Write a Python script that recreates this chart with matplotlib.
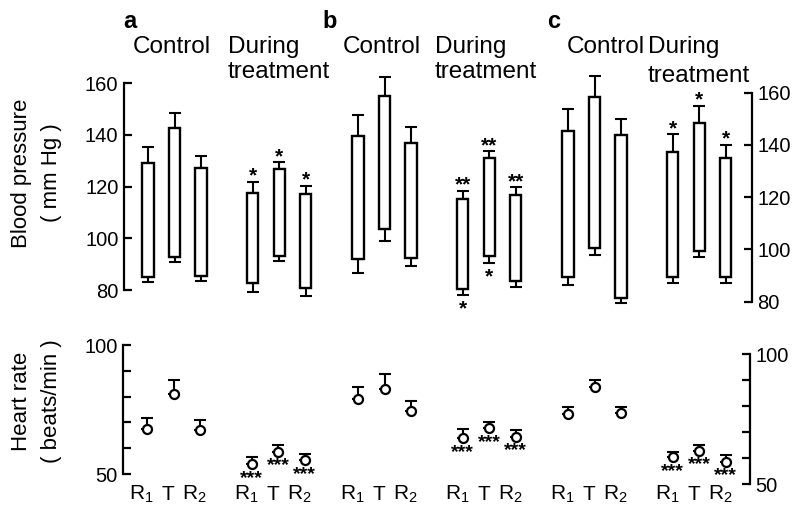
import numpy as np
import matplotlib
matplotlib.use("Agg")
import matplotlib.pyplot as plt
import matplotlib.transforms as mtransforms

plt.rcParams['font.family'] = ['Liberation Sans', 'DejaVu Sans']
plt.rcParams['mathtext.fontset'] = 'custom'
plt.rcParams['mathtext.rm'] = 'Liberation Sans'
plt.rcParams['mathtext.it'] = 'Liberation Sans:italic'
plt.rcParams['mathtext.bf'] = 'Liberation Sans:bold'

panels = ['a', 'b', 'c']
conditions = ['R$_1$', 'T', 'R$_2$', 'R$_1$', 'T', 'R$_2$']

# blood pressure, mm Hg: systolic (top of bar) and diastolic (bottom), with SE
sys_a = [129.3, 142.6, 127.1, 117.7, 126.7, 117.0]
sys_se_a = [5.9, 5.8, 4.9, 4.2, 2.7, 3.3]
dia_a = [84.9, 92.9, 85.4, 82.6, 93.2, 80.7]
dia_se_a = [1.7, 1.9, 1.8, 3.2, 2.0, 2.9]

sys_b = [139.5, 155.1, 136.9, 115.2, 130.9, 116.7]
sys_se_b = [8.1, 7.3, 6.0, 3.2, 2.9, 3.0]
dia_b = [91.9, 103.7, 92.5, 80.3, 93.1, 83.6]
dia_se_b = [5.2, 4.8, 3.1, 2.2, 2.8, 2.6]

sys_c = [145.5, 158.5, 143.8, 137.4, 148.3, 135.1]
sys_se_c = [8.3, 7.9, 6.0, 6.7, 6.7, 5.0]
dia_c = [89.3, 100.4, 81.4, 89.3, 99.4, 89.6]
dia_se_c = [2.9, 2.5, 1.9, 2.3, 2.2, 2.4]

# heart rate, beats/min, with SE
hr_a = [67.3, 80.9, 67.1, 53.9, 58.6, 55.4]
hr_se_a = [4.3, 5.5, 3.8, 2.6, 2.6, 2.4]
hr_b = [79.2, 82.8, 74.5, 63.8, 67.7, 64.5]
hr_se_b = [4.4, 6.0, 3.9, 3.5, 2.6, 2.6]
hr_c = [76.8, 87.2, 77.2, 60.3, 62.8, 58.6]
hr_se_c = [2.7, 2.8, 2.5, 2.2, 2.2, 2.6]

# significance marks
sys_star_a = ['', '', '', '*', '*', '*']
dia_star_a = ['', '', '', '', '', '']
sys_star_b = ['', '', '', '**', '**', '**']
dia_star_b = ['', '', '', '*', '*', '']
sys_star_c = ['', '', '', '*', '*', '*']
dia_star_c = ['', '', '', '', '', '']
hr_star = ['', '', '', '***', '***', '***']

W, H = 793, 508
UNIT = 26.5  # px per x unit
xpos = np.array([0, 1, 2, 3.95, 4.95, 5.95])
XL = -24 / UNIT

fig = plt.figure(figsize=(W / 100, H / 100), dpi=100)


def fx(px):
    return px / W


def fy(py):
    return 1 - py / H


def axes_at(x0, x1, ytop, ybot, vtop, vbot, lo, hi):
    s = (ybot - ytop) / (vtop - vbot)
    top = ytop - (hi - vtop) * s
    bot = ybot + (vbot - lo) * s
    ax = fig.add_axes([fx(x0), fy(bot), (x1 - x0) / W, (bot - top) / H])
    ax.set_ylim(lo, hi)
    ax.set_xlim(XL, XL + (x1 - x0) / UNIT)
    ax.patch.set_alpha(0)
    for sp in ax.spines.values():
        sp.set_visible(False)
    ax.set_xticks([])
    ax.set_yticks([])
    return ax


def style_axis(ax, side, ticks, labels, lo, hi):
    sp = ax.spines[side]
    sp.set_visible(True)
    sp.set_bounds(lo, hi)
    sp.set_linewidth(1.6)
    ax.set_yticks(ticks)
    ax.set_yticklabels(labels)
    if side == 'right':
        ax.yaxis.tick_right()
    ax.tick_params(axis='y', direction='in', length=5.5, width=1.6,
                   labelsize=14.5, pad=4)


bp_data = [(sys_a, sys_se_a, dia_a, dia_se_a, sys_star_a, dia_star_a),
           (sys_b, sys_se_b, dia_b, dia_se_b, sys_star_b, dia_star_b),
           (sys_c, sys_se_c, dia_c, dia_se_c, sys_star_c, dia_star_c)]
hr_data = [(hr_a, hr_se_a), (hr_b, hr_se_b), (hr_c, hr_se_c)]

# panel geometry in pixels
bp_geo = [(124, 334, 83.3, 290), (334, 544, 83.3, 290), (544, 752, 92.7, 301.7)]
hr_geo = [(123, 334, 345, 474), (334, 544, 345, 474), (544, 750, 354, 484)]
zeros = np.zeros(6)

for i, p in enumerate(panels):
    sys_v, sys_se, dia_v, dia_se, s_top, s_bot = bp_data[i]
    x0, x1, yt, yb = bp_geo[i]
    ax = axes_at(x0, x1, yt, yb, 160, 80, 70, 172)
    ax.errorbar(xpos, sys_v, yerr=[zeros, sys_se], fmt='none', ecolor='black',
                elinewidth=1.5, capsize=4, capthick=1.5, zorder=1)
    ax.errorbar(xpos, dia_v, yerr=[dia_se, zeros], fmt='none', ecolor='black',
                elinewidth=1.5, capsize=4, capthick=1.5, zorder=1)
    ax.bar(xpos, np.subtract(sys_v, dia_v), bottom=dia_v, width=0.42,
           facecolor='white', edgecolor='black', linewidth=1.7, zorder=2)
    for xi, v, e, s in zip(xpos, sys_v, sys_se, s_top):
        if s:
            ax.annotate(s, (xi, v + e), xytext=(0, 0), textcoords='offset points',
                        ha='center', va='baseline', fontsize=15, fontweight='bold')
    for xi, v, e, s in zip(xpos, dia_v, dia_se, s_bot):
        if s:
            ax.annotate(s, (xi, v - e), xytext=(0, -14), textcoords='offset points',
                        ha='center', va='baseline', fontsize=15, fontweight='bold')
    if p == 'a':
        style_axis(ax, 'left', [80, 100, 120, 140, 160],
                   ['80', '100', '120', '140', '160'], 80, 160)
    if p == 'c':
        style_axis(ax, 'right', [80, 100, 120, 140, 160],
                   ['80', '100', '120', '140', '160'], 80, 160)

    hr_v, hr_se = hr_data[i]
    x0, x1, yt, yb = hr_geo[i]
    ax2 = axes_at(x0, x1, yt, yb, 100, 50, 40, 105)
    ax2.errorbar(xpos, hr_v, yerr=[zeros, hr_se], fmt='none', ecolor='black',
                 elinewidth=1.5, capsize=4, capthick=1.5, zorder=1)
    ax2.plot(xpos, hr_v, 'o', mfc='white', mec='black', ms=6.5, mew=1.6, zorder=3)
    for xi, v, s in zip(xpos, hr_v, hr_star):
        if s:
            ax2.annotate(s, (xi, v), xytext=(0, -13.5), textcoords='offset points',
                         ha='center', va='baseline', fontsize=14, fontweight='bold')
    hr_ticks = [50, 60, 70, 80, 90, 100]
    hr_labels = ['50', '', '', '', '', '100']
    if p == 'a':
        style_axis(ax2, 'left', hr_ticks, hr_labels, 50, 100)
    if p == 'c':
        style_axis(ax2, 'right', hr_ticks, hr_labels, 50, 100)

    # condition labels under the heart rate panel
    trans = mtransforms.blended_transform_factory(ax2.transData, fig.transFigure)
    for xi, lab in zip(xpos, conditions):
        ax2.text(xi - 0.2, fy(500), lab, transform=trans, ha='center',
                 va='baseline', fontsize=15)

# panel letters and group headings
letter_x = [123, 322, 547]
control_x = [133, 343, 567]
during_x = [228, 435, 648]
treat_y = [78, 78, 82]
for i, p in enumerate(panels):
    fig.text(fx(letter_x[i]), fy(28), p, fontsize=17, fontweight='bold', va='baseline')
    fig.text(fx(control_x[i]), fy(53), 'Control', fontsize=17.5, va='baseline')
    fig.text(fx(during_x[i]), fy(53), 'During', fontsize=17.5, va='baseline')
    fig.text(fx(during_x[i]), fy(treat_y[i]), 'treatment', fontsize=17.5, va='baseline')

fig.text(fx(22), fy(173), 'Blood pressure', rotation=90, ha='center', va='center', fontsize=16)
fig.text(fx(51), fy(173), '( mm Hg )', rotation=90, ha='center', va='center', fontsize=16)
fig.text(fx(22), fy(401), 'Heart rate', rotation=90, ha='center', va='center', fontsize=16)
fig.text(fx(51), fy(401), '( beats/min )', rotation=90, ha='center', va='center', fontsize=16)

fig.savefig('out.png', dpi=100)
